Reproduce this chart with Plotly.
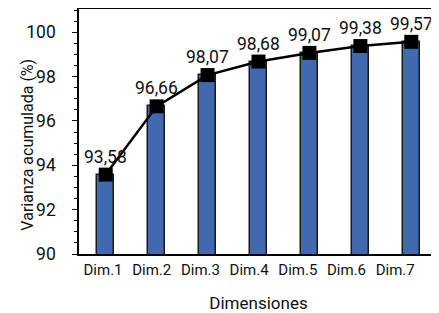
import plotly.graph_objects as go

categories = ["Dim.1", "Dim.2", "Dim.3", "Dim.4", "Dim.5", "Dim.6", "Dim.7"]
values = [93.58, 96.66, 98.07, 98.68, 99.07, 99.38, 99.57]
labels = [f"{v:.2f}".replace(".", ",") for v in values]
y_ticks = [90, 92, 94, 96, 98, 100]

FONT = "Roboto, Liberation Sans, sans-serif"
idx = list(range(len(categories)))

fig = go.Figure()
fig.add_trace(go.Bar(
    x=categories, y=values, width=0.33,
    marker=dict(color="#4169b0", line=dict(color="#1a1a1a", width=1.5)),
    hoverinfo="skip",
))
fig.add_trace(go.Scatter(
    x=categories, y=values, mode="lines+markers",
    line=dict(color="black", width=2.5),
    marker=dict(symbol="square", size=14, color="black"),
))
# invisible helper so the label axis is drawn
fig.add_trace(go.Scatter(
    x=[idx[0], idx[-1]], y=[values[0], values[0]], xaxis="x2", mode="markers",
    marker=dict(opacity=0), hoverinfo="skip",
))
for c, v, t in zip(categories, values, labels):
    fig.add_annotation(x=c, y=v, text=t, showarrow=False,
                       yanchor="bottom", xanchor="center", yshift=6,
                       font=dict(family=FONT, size=17.5, color="#111"))

fig.add_annotation(xref="paper", yref="paper", x=-0.143, y=0.445,
                   text="Varianza acumulada (%)", textangle=-90, showarrow=False,
                   xanchor="center", yanchor="middle",
                   font=dict(family=FONT, size=16, color="#111"))

fig.update_layout(
    width=431, height=305,
    margin=dict(l=71, r=1, t=1, b=59),
    plot_bgcolor="white", paper_bgcolor="white",
    showlegend=False,
    font=dict(family=FONT, color="#111"),
    bargap=0,
    xaxis=dict(
        showline=True, linecolor="black", linewidth=1.5, mirror=True,
        ticks="", showticklabels=False, automargin=False,
    ),
    xaxis2=dict(
        overlaying="x", anchor="y", side="bottom",
        range=[-0.493, 6.879], tickvals=idx, ticktext=categories,
        showline=False, showgrid=False, zeroline=False, ticks="",
        tickfont=dict(size=15), ticklabelstandoff=5, automargin=False,
        title=dict(text="Dimensiones", font=dict(size=17), standoff=19),
    ),
)
fig.update_yaxes(
    range=[90, 101.05], tickvals=y_ticks,
    showline=True, linecolor="black", linewidth=1.5, mirror=True,
    showgrid=False, zeroline=False,
    ticks="outside", ticklen=5, tickcolor="black",
    minor=dict(dtick=0.5, ticks="outside", ticklen=3, tickcolor="black", showgrid=False),
    tickfont=dict(size=17.5), ticklabelstandoff=13,
    automargin=False,
)

fig.write_html("out.html")
